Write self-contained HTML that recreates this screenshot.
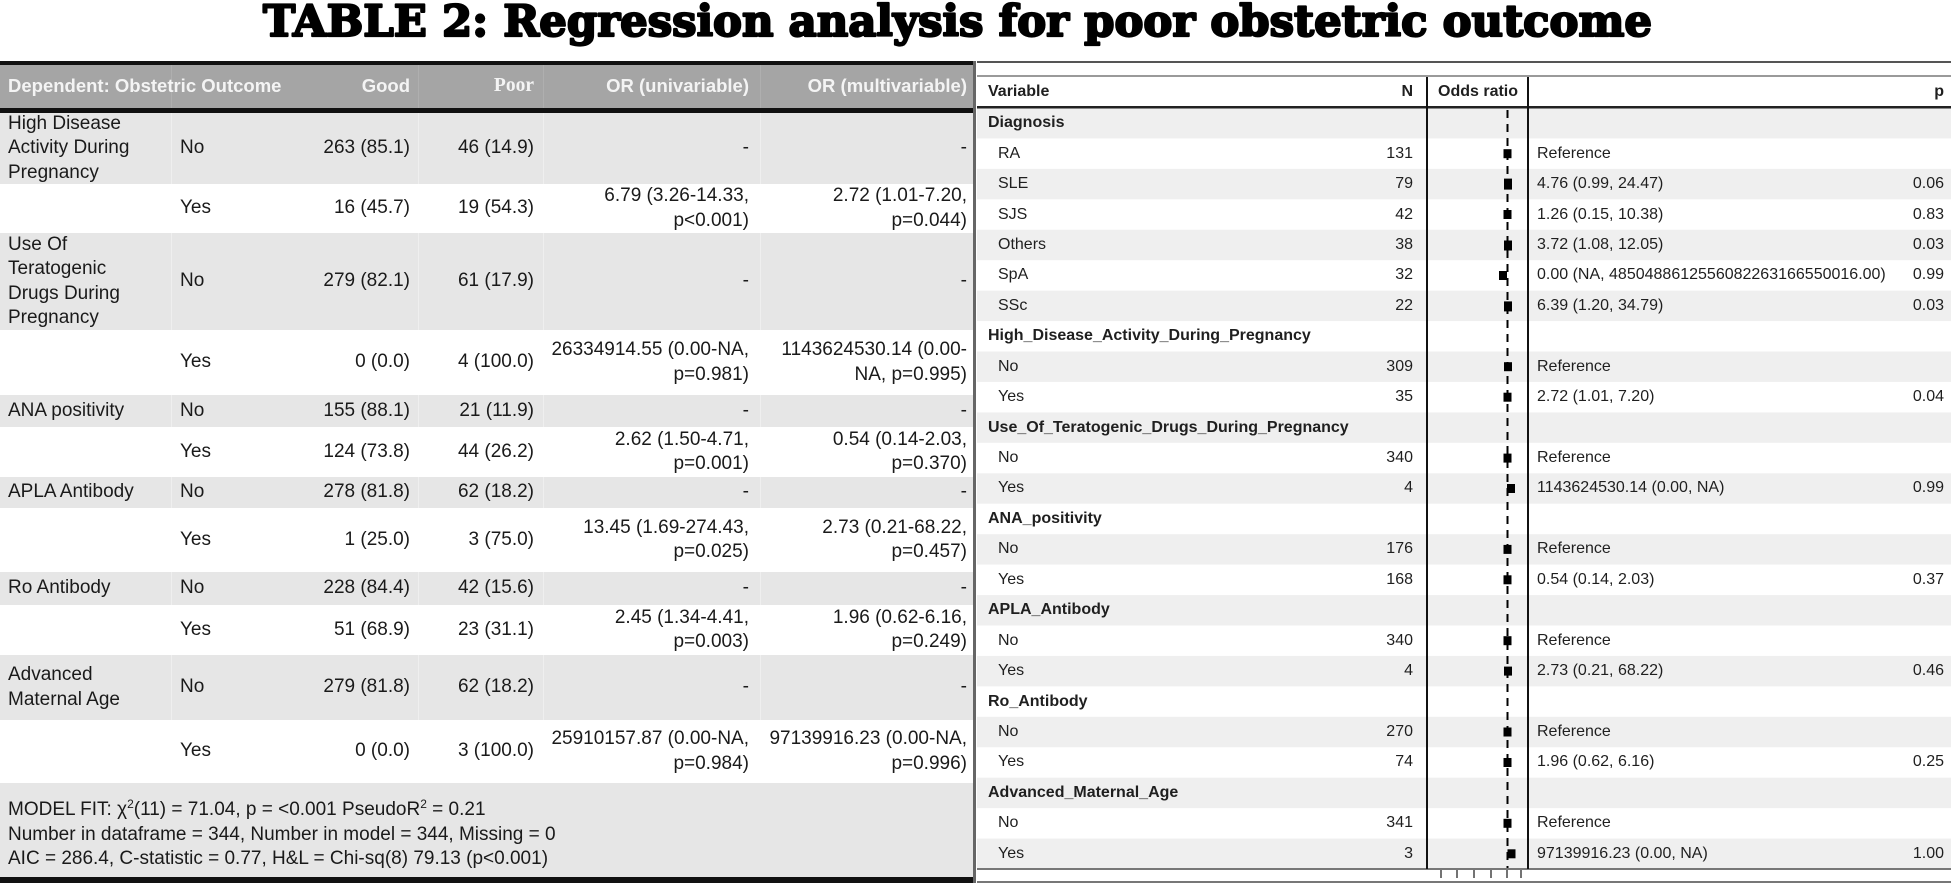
<!DOCTYPE html>
<html>
<head>
<meta charset="utf-8">
<style>
html,body{margin:0;padding:0;}
body{width:1951px;height:886px;position:relative;background:#fff;overflow:hidden;font-family:"Liberation Sans",Arial,sans-serif;}
svg.bg{position:absolute;left:0;top:0;}
.row{position:absolute;left:0;width:976px;}
.c{position:absolute;top:0;height:100%;display:flex;align-items:center;font-size:19px;line-height:24.5px;color:#1a1a1a;white-space:nowrap;}
.c1{left:8px;width:165px;}
.c2{left:180px;width:60px;}
.r{left:0;justify-content:flex-end;text-align:right;}
.c3{width:410px;}
.c4{width:534px;}
.c5{width:749px;}
.c6{width:967px;}
.hd{color:#f4f4f4;font-weight:bold;font-size:18.5px;}
.serif{font-family:"Liberation Serif",serif;font-size:19.5px;}
.model{position:absolute;left:8px;top:798px;font-size:19px;line-height:24px;color:#1a1a1a;white-space:nowrap;}
.sup{font-size:12px;position:relative;top:-7px;}
.rr{position:absolute;left:977px;width:974px;height:30.44px;}
.t{position:absolute;top:0;height:100%;display:flex;align-items:center;font-size:16px;color:#1f1f1f;white-space:nowrap;}
.g{left:11px;font-weight:bold;}
.lv{left:21px;}
.n{left:0;width:436px;justify-content:flex-end;}
.e{left:560px;}
.p{left:0;width:967px;justify-content:flex-end;}
.b{font-weight:bold;}
</style>
</head>
<body>
<svg class="bg" width="1951" height="886" xmlns="http://www.w3.org/2000/svg">
  <!-- Title -->
  <text x="263" y="36" font-family="DejaVu Serif, Liberation Serif, serif" font-weight="bold" font-size="43" textLength="1389" lengthAdjust="spacingAndGlyphs" fill="#000" stroke="#000" stroke-width="2.2" stroke-linejoin="round">TABLE 2: Regression analysis for poor obstetric outcome</text>

  <!-- Left table backgrounds -->
  <rect x="0" y="65" width="976" height="43" fill="#a5a5a5"/>
  <rect x="0" y="113" width="976" height="71" fill="#e6e6e6"/>
  <rect x="0" y="233" width="976" height="97" fill="#e6e6e6"/>
  <rect x="0" y="395" width="976" height="32" fill="#e6e6e6"/>
  <rect x="0" y="477" width="976" height="31" fill="#e6e6e6"/>
  <rect x="0" y="572" width="976" height="33" fill="#e6e6e6"/>
  <rect x="0" y="655" width="976" height="65" fill="#e6e6e6"/>
  <rect x="0" y="783" width="976" height="94" fill="#e6e6e6"/>
  <!-- header column dividers -->
  <g fill="#afafaf">
    <rect x="171" y="65" width="1" height="43"/>
    <rect x="418" y="65" width="1" height="43"/>
    <rect x="543" y="65" width="1" height="43"/>
    <rect x="760" y="65" width="1" height="43"/>
  </g>
  <g fill="#efefef">
    <rect x="171" y="113" width="1" height="71"/><rect x="418" y="113" width="1" height="71"/><rect x="543" y="113" width="1" height="71"/><rect x="760" y="113" width="1" height="71"/>
    <rect x="171" y="233" width="1" height="97"/><rect x="418" y="233" width="1" height="97"/><rect x="543" y="233" width="1" height="97"/><rect x="760" y="233" width="1" height="97"/>
    <rect x="171" y="395" width="1" height="32"/><rect x="418" y="395" width="1" height="32"/><rect x="543" y="395" width="1" height="32"/><rect x="760" y="395" width="1" height="32"/>
    <rect x="171" y="477" width="1" height="31"/><rect x="418" y="477" width="1" height="31"/><rect x="543" y="477" width="1" height="31"/><rect x="760" y="477" width="1" height="31"/>
    <rect x="171" y="572" width="1" height="33"/><rect x="418" y="572" width="1" height="33"/><rect x="543" y="572" width="1" height="33"/><rect x="760" y="572" width="1" height="33"/>
    <rect x="171" y="655" width="1" height="65"/><rect x="418" y="655" width="1" height="65"/><rect x="543" y="655" width="1" height="65"/><rect x="760" y="655" width="1" height="65"/>
  </g>
  <!-- thick lines -->
  <rect x="0" y="61" width="976" height="4" fill="#111"/>
  <rect x="0" y="108" width="976" height="5" fill="#111"/>
  <rect x="0" y="877" width="976" height="6" fill="#111"/>
  <rect x="973" y="61" width="3" height="822" fill="#666"/>

  <!-- Right panel row shading (even rows) -->
  <g fill="#efefef">
    <rect x="977" y="108" width="974" height="30.44"/>
    <rect x="977" y="168.88" width="974" height="30.44"/>
    <rect x="977" y="229.76" width="974" height="30.44"/>
    <rect x="977" y="290.64" width="974" height="30.44"/>
    <rect x="977" y="351.52" width="974" height="30.44"/>
    <rect x="977" y="412.4" width="974" height="30.44"/>
    <rect x="977" y="473.28" width="974" height="30.44"/>
    <rect x="977" y="534.16" width="974" height="30.44"/>
    <rect x="977" y="595.04" width="974" height="30.44"/>
    <rect x="977" y="655.92" width="974" height="30.44"/>
    <rect x="977" y="716.8" width="974" height="30.44"/>
    <rect x="977" y="777.68" width="974" height="30.44"/>
    <rect x="977" y="838.56" width="974" height="30.44"/>
  </g>
  <!-- Right panel lines -->
  <rect x="977" y="61" width="974" height="2" fill="#555"/>
  <rect x="977" y="75" width="974" height="2" fill="#9a9a9a"/>
  <rect x="977" y="106" width="974" height="2.5" fill="#222"/>
  <rect x="977" y="868" width="974" height="2" fill="#777"/>
  <rect x="977" y="881" width="974" height="2" fill="#777"/>
  <rect x="1426" y="77" width="2" height="792" fill="#111"/>
  <rect x="1527" y="77" width="2" height="792" fill="#111"/>
  <!-- dashed reference line -->
  <line x1="1507.5" y1="110" x2="1507.5" y2="868" stroke="#000" stroke-width="2" stroke-dasharray="8,6"/>
  <!-- squares -->
  <g fill="#000">
    <rect x="1503.5" y="149.2" width="8" height="9"/>
    <rect x="1504" y="178.6" width="8" height="11"/>
    <rect x="1503.5" y="210" width="8" height="9"/>
    <rect x="1504" y="240.5" width="8" height="10"/>
    <rect x="1499" y="271" width="8" height="9"/>
    <rect x="1504" y="301.4" width="8" height="10"/>
    <rect x="1504" y="362.2" width="8" height="9"/>
    <rect x="1503.5" y="392.7" width="8" height="9"/>
    <rect x="1503.5" y="453.6" width="8" height="9"/>
    <rect x="1507" y="484" width="8" height="9"/>
    <rect x="1503.5" y="544.9" width="8" height="9"/>
    <rect x="1503.5" y="575.3" width="8" height="9"/>
    <rect x="1503.5" y="636.2" width="8" height="9"/>
    <rect x="1504" y="666.6" width="8" height="9"/>
    <rect x="1503.5" y="727.5" width="8" height="9"/>
    <rect x="1503.5" y="758" width="8" height="9"/>
    <rect x="1503.5" y="818.8" width="8" height="9"/>
    <rect x="1507.5" y="849.3" width="8" height="9"/>
  </g>
  <!-- axis ticks -->
  <g stroke="#444" stroke-width="1.5">
    <line x1="1441" y1="870" x2="1441" y2="878"/>
    <line x1="1457" y1="870" x2="1457" y2="878"/>
    <line x1="1474" y1="870" x2="1474" y2="878"/>
    <line x1="1491" y1="870" x2="1491" y2="878"/>
    <line x1="1507" y1="870" x2="1507" y2="878"/>
    <line x1="1521" y1="870" x2="1521" y2="878"/>
  </g>
</svg>

<!-- LEFT TABLE -->
<div class="row" style="top:65px;height:43px;">
  <div class="c c1 hd" style="width:300px;">Dependent: Obstetric Outcome</div>
  <div class="c r c3 hd">Good</div>
  <div class="c r c4 hd serif">Poor</div>
  <div class="c r c5 hd">OR (univariable)</div>
  <div class="c r c6 hd">OR (multivariable)</div>
</div>

<div class="row" style="top:113px;height:71px;">
  <div class="c c1">High Disease<br>Activity During<br>Pregnancy</div>
  <div class="c c2">No</div>
  <div class="c r c3">263 (85.1)</div>
  <div class="c r c4">46 (14.9)</div>
  <div class="c r c5">-</div>
  <div class="c r c6">-</div>
</div>

<div class="row" style="top:184px;height:49px;">
  <div class="c c2">Yes</div>
  <div class="c r c3">16 (45.7)</div>
  <div class="c r c4">19 (54.3)</div>
  <div class="c r c5">6.79 (3.26-14.33,<br>p&lt;0.001)</div>
  <div class="c r c6">2.72 (1.01-7.20,<br>p=0.044)</div>
</div>

<div class="row" style="top:233px;height:97px;">
  <div class="c c1">Use Of<br>Teratogenic<br>Drugs During<br>Pregnancy</div>
  <div class="c c2">No</div>
  <div class="c r c3">279 (82.1)</div>
  <div class="c r c4">61 (17.9)</div>
  <div class="c r c5">-</div>
  <div class="c r c6">-</div>
</div>

<div class="row" style="top:330px;height:65px;">
  <div class="c c2">Yes</div>
  <div class="c r c3">0 (0.0)</div>
  <div class="c r c4">4 (100.0)</div>
  <div class="c r c5">26334914.55 (0.00-NA,<br>p=0.981)</div>
  <div class="c r c6">1143624530.14 (0.00-<br>NA, p=0.995)</div>
</div>

<div class="row" style="top:395px;height:32px;">
  <div class="c c1">ANA positivity</div>
  <div class="c c2">No</div>
  <div class="c r c3">155 (88.1)</div>
  <div class="c r c4">21 (11.9)</div>
  <div class="c r c5">-</div>
  <div class="c r c6">-</div>
</div>

<div class="row" style="top:427px;height:50px;">
  <div class="c c2">Yes</div>
  <div class="c r c3">124 (73.8)</div>
  <div class="c r c4">44 (26.2)</div>
  <div class="c r c5">2.62 (1.50-4.71,<br>p=0.001)</div>
  <div class="c r c6">0.54 (0.14-2.03,<br>p=0.370)</div>
</div>

<div class="row" style="top:477px;height:31px;">
  <div class="c c1">APLA Antibody</div>
  <div class="c c2">No</div>
  <div class="c r c3">278 (81.8)</div>
  <div class="c r c4">62 (18.2)</div>
  <div class="c r c5">-</div>
  <div class="c r c6">-</div>
</div>

<div class="row" style="top:508px;height:64px;">
  <div class="c c2">Yes</div>
  <div class="c r c3">1 (25.0)</div>
  <div class="c r c4">3 (75.0)</div>
  <div class="c r c5">13.45 (1.69-274.43,<br>p=0.025)</div>
  <div class="c r c6">2.73 (0.21-68.22,<br>p=0.457)</div>
</div>

<div class="row" style="top:572px;height:33px;">
  <div class="c c1">Ro Antibody</div>
  <div class="c c2">No</div>
  <div class="c r c3">228 (84.4)</div>
  <div class="c r c4">42 (15.6)</div>
  <div class="c r c5">-</div>
  <div class="c r c6">-</div>
</div>

<div class="row" style="top:605px;height:50px;">
  <div class="c c2">Yes</div>
  <div class="c r c3">51 (68.9)</div>
  <div class="c r c4">23 (31.1)</div>
  <div class="c r c5">2.45 (1.34-4.41,<br>p=0.003)</div>
  <div class="c r c6">1.96 (0.62-6.16,<br>p=0.249)</div>
</div>

<div class="row" style="top:655px;height:65px;">
  <div class="c c1">Advanced<br>Maternal Age</div>
  <div class="c c2">No</div>
  <div class="c r c3">279 (81.8)</div>
  <div class="c r c4">62 (18.2)</div>
  <div class="c r c5">-</div>
  <div class="c r c6">-</div>
</div>

<div class="row" style="top:720px;height:63px;">
  <div class="c c2">Yes</div>
  <div class="c r c3">0 (0.0)</div>
  <div class="c r c4">3 (100.0)</div>
  <div class="c r c5">25910157.87 (0.00-NA,<br>p=0.984)</div>
  <div class="c r c6">97139916.23 (0.00-NA,<br>p=0.996)</div>
</div>

<div class="model">MODEL FIT: χ<span class="sup">2</span>(11) = 71.04, p = &lt;0.001 PseudoR<span class="sup">2</span> = 0.21<br>Number in dataframe = 344, Number in model = 344, Missing = 0<br>AIC = 286.4, C-statistic = 0.77, H&amp;L = Chi-sq(8) 79.13 (p&lt;0.001)</div>

<!-- RIGHT PANEL -->
<div class="rr" style="top:77px;height:29px;">
  <div class="t g" style="left:11px;">Variable</div>
  <div class="t n b">N</div>
  <div class="t b" style="left:461px;">Odds ratio</div>
  <div class="t p b">p</div>
</div>

<div class="rr" style="top:108px;"><div class="t g">Diagnosis</div></div>
<div class="rr" style="top:138.44px;"><div class="t lv">RA</div><div class="t n">131</div><div class="t e">Reference</div></div>
<div class="rr" style="top:168.88px;"><div class="t lv">SLE</div><div class="t n">79</div><div class="t e">4.76 (0.99, 24.47)</div><div class="t p">0.06</div></div>
<div class="rr" style="top:199.32px;"><div class="t lv">SJS</div><div class="t n">42</div><div class="t e">1.26 (0.15, 10.38)</div><div class="t p">0.83</div></div>
<div class="rr" style="top:229.76px;"><div class="t lv">Others</div><div class="t n">38</div><div class="t e">3.72 (1.08, 12.05)</div><div class="t p">0.03</div></div>
<div class="rr" style="top:260.2px;"><div class="t lv">SpA</div><div class="t n">32</div><div class="t e">0.00 (NA, 4850488612556082263166550016.00)</div><div class="t p">0.99</div></div>
<div class="rr" style="top:290.64px;"><div class="t lv">SSc</div><div class="t n">22</div><div class="t e">6.39 (1.20, 34.79)</div><div class="t p">0.03</div></div>
<div class="rr" style="top:321.08px;"><div class="t g">High_Disease_Activity_During_Pregnancy</div></div>
<div class="rr" style="top:351.52px;"><div class="t lv">No</div><div class="t n">309</div><div class="t e">Reference</div></div>
<div class="rr" style="top:381.96px;"><div class="t lv">Yes</div><div class="t n">35</div><div class="t e">2.72 (1.01, 7.20)</div><div class="t p">0.04</div></div>
<div class="rr" style="top:412.4px;"><div class="t g">Use_Of_Teratogenic_Drugs_During_Pregnancy</div></div>
<div class="rr" style="top:442.84px;"><div class="t lv">No</div><div class="t n">340</div><div class="t e">Reference</div></div>
<div class="rr" style="top:473.28px;"><div class="t lv">Yes</div><div class="t n">4</div><div class="t e">1143624530.14 (0.00, NA)</div><div class="t p">0.99</div></div>
<div class="rr" style="top:503.72px;"><div class="t g">ANA_positivity</div></div>
<div class="rr" style="top:534.16px;"><div class="t lv">No</div><div class="t n">176</div><div class="t e">Reference</div></div>
<div class="rr" style="top:564.6px;"><div class="t lv">Yes</div><div class="t n">168</div><div class="t e">0.54 (0.14, 2.03)</div><div class="t p">0.37</div></div>
<div class="rr" style="top:595.04px;"><div class="t g">APLA_Antibody</div></div>
<div class="rr" style="top:625.48px;"><div class="t lv">No</div><div class="t n">340</div><div class="t e">Reference</div></div>
<div class="rr" style="top:655.92px;"><div class="t lv">Yes</div><div class="t n">4</div><div class="t e">2.73 (0.21, 68.22)</div><div class="t p">0.46</div></div>
<div class="rr" style="top:686.36px;"><div class="t g">Ro_Antibody</div></div>
<div class="rr" style="top:716.8px;"><div class="t lv">No</div><div class="t n">270</div><div class="t e">Reference</div></div>
<div class="rr" style="top:747.24px;"><div class="t lv">Yes</div><div class="t n">74</div><div class="t e">1.96 (0.62, 6.16)</div><div class="t p">0.25</div></div>
<div class="rr" style="top:777.68px;"><div class="t g">Advanced_Maternal_Age</div></div>
<div class="rr" style="top:808.12px;"><div class="t lv">No</div><div class="t n">341</div><div class="t e">Reference</div></div>
<div class="rr" style="top:838.56px;"><div class="t lv">Yes</div><div class="t n">3</div><div class="t e">97139916.23 (0.00, NA)</div><div class="t p">1.00</div></div>

</body>
</html>
